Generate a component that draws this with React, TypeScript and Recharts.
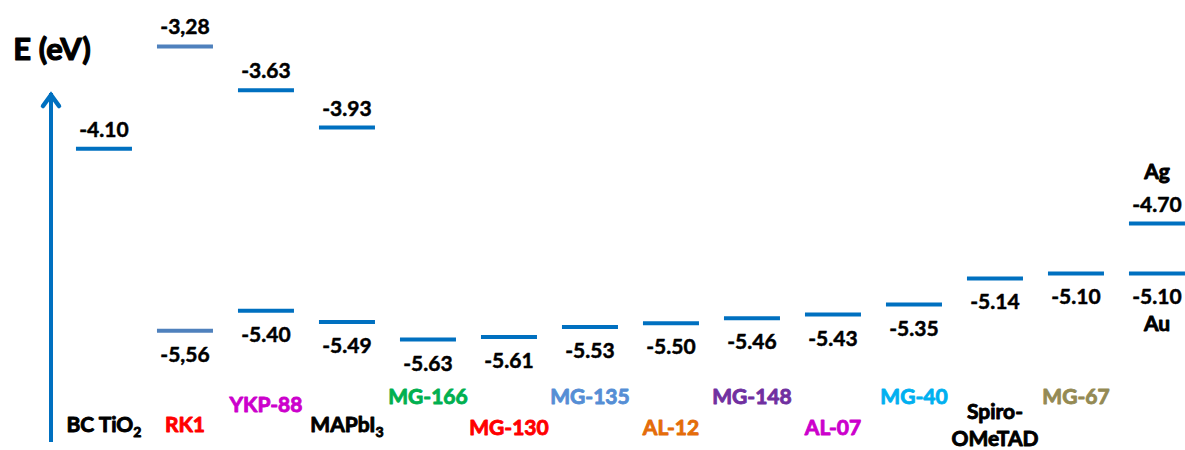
import React from 'react';
import { ComposedChart, XAxis, YAxis, ReferenceLine } from 'recharts';

// ---- data ----
const categories = [
  'BC TiO2', 'RK1', 'YKP-88', 'MAPbI3', 'MG-166', 'MG-130', 'MG-135',
  'AL-12', 'MG-148', 'AL-07', 'MG-40', 'Spiro-OMeTAD', 'MG-67', 'Ag / Au',
];
const upperLevels: (number | null)[] = [
  -4.10, -3.28, -3.63, -3.93, null, null, null, null, null, null, null, null, null, -4.70,
];
const lowerLevels: (number | null)[] = [
  null, -5.56, -5.40, -5.49, -5.63, -5.61, -5.53, -5.50, -5.46, -5.43, -5.35, -5.14, -5.10, -5.10,
];
const upperTexts = ['-4.10', '-3,28', '-3.63', '-3.93', '', '', '', '', '', '', '', '', '', '-4.70'];
const lowerTexts = ['', '-5,56', '-5.40', '-5.49', '-5.63', '-5.61', '-5.53', '-5.50', '-5.46', '-5.43', '-5.35', '-5.14', '-5.10', '-5.10'];
const upperTags = ['', '', '', '', '', '', '', '', '', '', '', '', '', 'Ag'];
const lowerTags = ['', '', '', '', '', '', '', '', '', '', '', '', '', 'Au'];
const axisTitle = 'E (eV)';

// ---- styles / layout ----
const FONT = 'Lato, "Open Sans", "DejaVu Sans", sans-serif';
const BLUE = '#0070C0';
const levelColors = categories.map((c) => (c === 'RK1' ? '#4F81BD' : BLUE));
const categoryColors = [
  '#000000', '#FF0000', '#CC00CC', '#000000', '#00B050', '#FF0000', '#558ED5',
  '#E46C0A', '#7030A0', '#CC00CC', '#00B0F0', '#000000', '#948A54', '#000000',
];
const categoryRowDy = [-10, -10, -30, -10, -38, -7, -38, -7, -38, -7, -38, -23, -38, 0];
const unlabeled = new Set(['Ag / Au']);
const subscriptParts: Record<string, [string, string]> = {
  'BC TiO2': ['BC TiO', '2'],
  MAPbI3: ['MAPbI', '3'],
};
const lineBreaks: Record<string, string[]> = { 'Spiro-OMeTAD': ['Spiro-', 'OMeTAD'] };

const X_DOMAIN: [number, number] = [-0.654, 13.346];
const Y_DOMAIN: [number, number] = [-6.4516, -3.653];
const HALF = 0.3457; // half level width in category units

const indices = categories.map((_, i) => i);

const CategoryTick = (props: any) => {
  const { x, y, payload } = props;
  const i = Math.round(payload.value);
  const name = categories[i];
  if (!name || unlabeled.has(name)) return <g />;
  const common = {
    textAnchor: 'middle' as const,
    fontFamily: FONT,
    fontWeight: 700,
    fontSize: 21,
    fill: categoryColors[i],
    stroke: categoryColors[i],
    strokeWidth: 0.9,
    strokeLinejoin: 'round' as const,
  };
  const by = y + categoryRowDy[i];
  if (lineBreaks[name]) {
    return (
      <text x={x} y={by} {...common}>
        {lineBreaks[name].map((ln, k) => (
          <tspan key={k} x={x} dy={k === 0 ? 0 : 27}>
            {ln}
          </tspan>
        ))}
      </text>
    );
  }
  if (subscriptParts[name]) {
    const [main, sub] = subscriptParts[name];
    return (
      <text x={x} y={by} {...common}>
        {main}
        <tspan fontSize={14} dy={5}>
          {sub}
        </tspan>
      </text>
    );
  }
  return (
    <text x={x} y={by} {...common}>
      {name}
    </text>
  );
};

const makeLevelShape = (color: string, value: string, tag: string, above: boolean) => (p: any) => {
  const { x1, x2, y1 } = p;
  const cx = (x1 + x2) / 2;
  const txt = {
    textAnchor: 'middle' as const,
    fontFamily: FONT,
    fontWeight: 700,
    fontSize: 21,
    fill: '#000000',
    stroke: '#000000',
    strokeWidth: 0.5,
    strokeLinejoin: 'round' as const,
  };
  return (
    <g>
      <line x1={x1} x2={x2} y1={y1} y2={y1} stroke={color} strokeWidth={4} />
      {above ? (
        <>
          <text x={cx} y={y1 - 12} {...txt}>{value}</text>
          {tag ? <text x={cx} y={y1 - 45} {...txt} strokeWidth={0.9}>{tag}</text> : null}
        </>
      ) : (
        <>
          <text x={cx} y={y1 + 31} {...txt}>{value}</text>
          {tag ? <text x={cx} y={y1 + 58} {...txt} strokeWidth={0.9}>{tag}</text> : null}
        </>
      )}
    </g>
  );
};

const AxisDecor = (props: any) => {
  const vb = props.viewBox || {};
  const ax = (vb.x ?? 0) + (vb.width ?? 0);
  const top = vb.y ?? 0;
  return (
    <g>
      <polyline
        points={`${ax - 8},${top + 13} ${ax},${top + 2} ${ax + 8},${top + 13}`}
        fill="none"
        stroke={BLUE}
        strokeWidth={4.5}
        strokeLinejoin="miter"
        strokeLinecap="round"
      />
      <text
        x={ax + 1}
        y={top - 33}
        textAnchor="middle"
        fontFamily={FONT}
        fontWeight={700}
        fontSize={31}
        fill="#000000"
        stroke="#000000"
        strokeWidth={1.2}
        strokeLinejoin="round"
      >
        {axisTitle}
      </text>
    </g>
  );
};

export default function App() {
  return (
    <div style={{ position: 'absolute', left: 0, top: 0, width: 1185, height: 450, background: '#ffffff' }}>
      <ComposedChart width={1185} height={450} margin={{ top: 93, right: 0, bottom: 0, left: 0 }}>
        <XAxis
          type="number"
          dataKey="i"
          domain={X_DOMAIN}
          allowDataOverflow
          ticks={indices}
          interval={0}
          axisLine={false}
          tickLine={false}
          tickSize={0}
          tickMargin={0}
          height={8}
          tick={<CategoryTick />}
        />
        <YAxis
          type="number"
          domain={Y_DOMAIN}
          allowDataOverflow
          width={51}
          tick={false}
          tickLine={false}
          axisLine={{ stroke: BLUE, strokeWidth: 4 }}
          label={{ content: (p: any) => <AxisDecor {...p} /> }}
        />
        {upperLevels.map((v, i) =>
          v === null ? null : (
            <ReferenceLine
              key={`u${i}`}
              ifOverflow="visible"
              segment={[
                { x: i - HALF, y: v },
                { x: i + HALF, y: v },
              ]}
              stroke={levelColors[i]}
              strokeWidth={4}
              shape={makeLevelShape(levelColors[i], upperTexts[i], upperTags[i], true)}
            />
          ),
        )}
        {lowerLevels.map((v, i) =>
          v === null ? null : (
            <ReferenceLine
              key={`l${i}`}
              ifOverflow="visible"
              segment={[
                { x: i - HALF, y: v },
                { x: i + HALF, y: v },
              ]}
              stroke={levelColors[i]}
              strokeWidth={4}
              shape={makeLevelShape(levelColors[i], lowerTexts[i], lowerTags[i], false)}
            />
          ),
        )}
      </ComposedChart>
    </div>
  );
}
